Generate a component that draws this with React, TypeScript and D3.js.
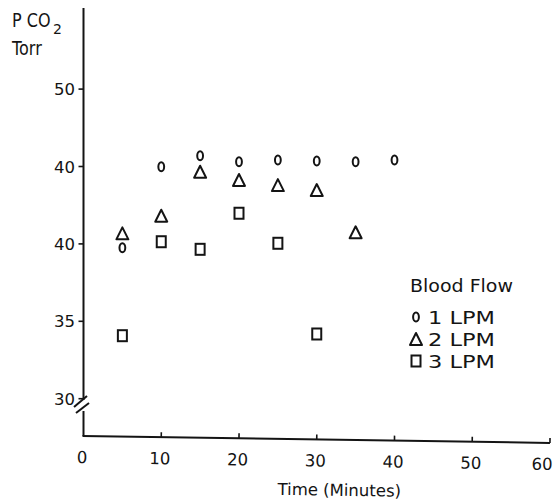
import React from "react";
import * as d3 from "d3";

const times1 = [5, 10, 15, 20, 25, 30, 35, 40];
const lpm1 = [39.75, 44.99, 45.7, 45.31, 45.42, 45.36, 45.31, 45.42];
const times2 = [5, 10, 15, 20, 25, 30, 35];
const lpm2 = [40.68, 41.82, 44.66, 44.13, 43.8, 43.48, 40.75];
const times3 = [5, 10, 15, 20, 25, 30];
const lpm3 = [34.07, 40.14, 39.65, 41.98, 40.04, 34.18];

const xTicks = [0, 10, 20, 30, 40, 50, 60];
const yTickValues = [50, 45, 40, 35, 30];
const yTickLabels = ["50", "40", "40", "35", "30"];
const legendLabels = ["1 LPM", "2 LPM", "3 LPM"];

const INK = "#141414";
const FONT = "'DejaVu Sans', sans-serif";

const Circle = ({ cx, cy }: { cx: number; cy: number }) => (
  <ellipse cx={cx} cy={cy} rx={2.9} ry={4.5} fill="none" stroke={INK} strokeWidth={2} />
);
const Tri = ({ cx, cy }: { cx: number; cy: number }) => (
  <path
    d={`M${cx},${cy - 6}L${cx + 6},${cy + 6}L${cx - 6},${cy + 6}Z`}
    fill="none"
    stroke={INK}
    strokeWidth={2}
    strokeLinejoin="round"
  />
);
const Sq = ({ cx, cy }: { cx: number; cy: number }) => (
  <rect x={cx - 4.5} y={cy - 5.5} width={9} height={11} fill="none" stroke={INK} strokeWidth={2} />
);

export default function App() {
  const x = d3.scaleLinear().domain([0, 60]).range([83.5, 550]);
  const y = d3.scaleLinear().domain([30, 50]).range([398.7, 89.1]);
  const axisX = x(0);
  const axisY = 436;
  const lastTick = xTicks[xTicks.length - 1];

  const legendMarkers = [Circle, Tri, Sq];

  return (
    <svg
      width={555}
      height={503}
      style={{ position: "absolute", left: 0, top: 0, background: "#fff" }}
      fontFamily={FONT}
    >
      <rect width={555} height={503} fill="#fff" />
      {/* Y axis title */}
      <g transform="translate(12,27) scale(0.8,1)">
        <text x={0} y={0} fontSize={20} fill={INK}>
          P CO
        </text>
      </g>
      <text x={53} y={34} fontSize={14} fill={INK}>
        2
      </text>
      <g transform="translate(12,55) scale(0.8,1)">
        <text x={0} y={0} fontSize={20} fill={INK}>
          Torr
        </text>
      </g>

      {/* Y axis with break */}
      <line x1={axisX} x2={axisX} y1={8} y2={400} stroke={INK} strokeWidth={2} />
      <line x1={axisX} x2={axisX} y1={411} y2={axisY} stroke={INK} strokeWidth={2} />
      <line x1={74} y1={407} x2={87} y2={396} stroke={INK} strokeWidth={2} />
      <line x1={76} y1={413} x2={89} y2={403} stroke={INK} strokeWidth={2} />
      {yTickValues.map((v, i) => (
        <g key={v}>
          <line x1={axisX - 5} x2={axisX} y1={y(v)} y2={y(v)} stroke={INK} strokeWidth={1.6} />
          <text x={75} y={y(v) + 6} fontSize={16.5} textAnchor="end" fill={INK}>
            {yTickLabels[i]}
          </text>
        </g>
      ))}

      {/* X axis (slightly skewed as in the scan) */}
      <g transform={`rotate(0.85, ${axisX}, ${axisY})`}>
        <line x1={axisX - 1} x2={x(60)} y1={axisY} y2={axisY} stroke={INK} strokeWidth={2} />
        {xTicks.map((t) => (
          <g key={t}>
            {t > 0 && (
              <line x1={x(t)} x2={x(t)} y1={axisY} y2={axisY - 5} stroke={INK} strokeWidth={1.6} />
            )}
            <text
              x={t === lastTick ? x(t) + 3 : x(t) - 1}
              y={axisY + 27}
              fontSize={16.5}
              textAnchor={t === lastTick ? "end" : "middle"}
              fill={INK}
            >
              {t}
            </text>
          </g>
        ))}
        <text x={x(33)} y={axisY + 56} fontSize={16.5} textAnchor="middle" fill={INK}>
          Time (Minutes)
        </text>
      </g>

      {/* Data */}
      {times1.map((t, i) => (
        <Circle key={"c" + i} cx={x(t)} cy={y(lpm1[i])} />
      ))}
      {times2.map((t, i) => (
        <Tri key={"t" + i} cx={x(t)} cy={y(lpm2[i])} />
      ))}
      {times3.map((t, i) => (
        <Sq key={"s" + i} cx={x(t)} cy={y(lpm3[i])} />
      ))}

      {/* Legend */}
      <text x={410} y={292} fontSize={18} fill={INK} textLength={103} lengthAdjust="spacingAndGlyphs">
        Blood Flow
      </text>
      {legendLabels.map((lab, i) => {
        const M = legendMarkers[i];
        const cy = 317 + i * 22;
        return (
          <g key={lab}>
            <M cx={416} cy={cy} />
            <text x={428} y={cy + 6.5} fontSize={18} fill={INK} textLength={67} lengthAdjust="spacingAndGlyphs">
              {lab}
            </text>
          </g>
        );
      })}
    </svg>
  );
}
